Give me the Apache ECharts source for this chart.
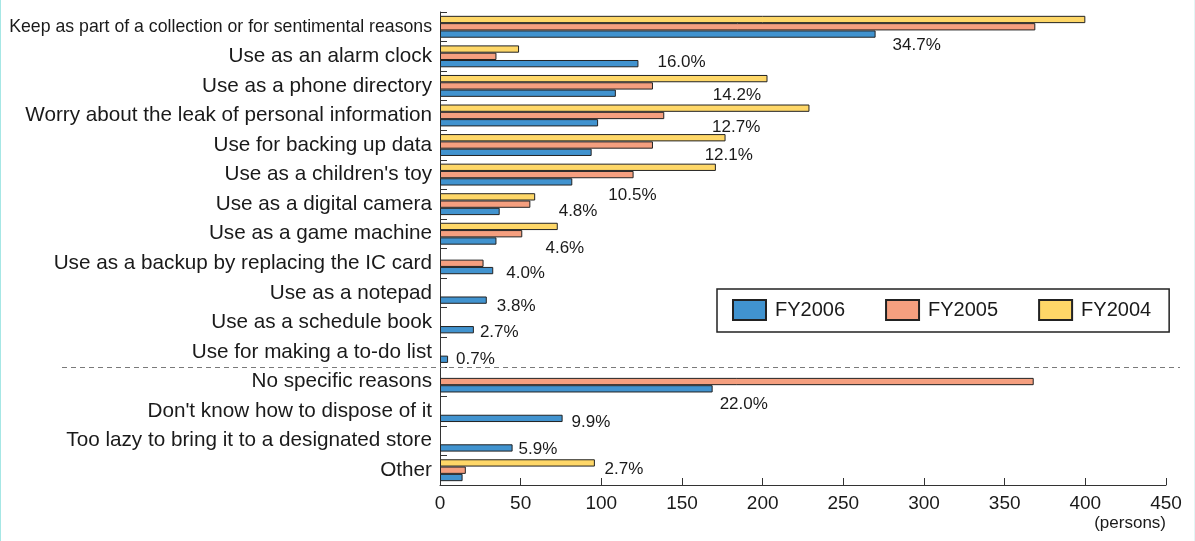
<!DOCTYPE html>
<html>
<head>
<meta charset="utf-8">
<script src="https://cdn.jsdelivr.net/npm/echarts@6/dist/echarts.min.js"></script>
<style>
  html, body { margin: 0; padding: 0; background: #fff; }
  #wrap { position: relative; width: 1195px; height: 541px; }
  #chart { width: 1195px; height: 541px; }
  #wrap::before, #wrap::after { content: ""; position: absolute; top: 0; bottom: 0; width: 1px; z-index: 5; }
  #wrap::before { left: 0; background: #a6e7e5; }
  #wrap::after { right: 0; background: #e3f6f6; }
</style>
</head>
<body>
<div id="wrap"><div id="chart"></div></div>
<script>
// Reasons for keeping old mobile phones, number of respondents by fiscal year
const categories = [
  'Keep as part of a collection or for sentimental reasons',
  'Use as an alarm clock',
  'Use as a phone directory',
  'Worry about the leak of personal information',
  'Use for backing up data',
  "Use as a children's toy",
  'Use as a digital camera',
  'Use as a game machine',
  'Use as a backup by replacing the IC card',
  'Use as a notepad',
  'Use as a schedule book',
  'Use for making a to-do list',
  'No specific reasons',
  "Don't know how to dispose of it",
  'Too lazy to bring it to a designated store',
  'Other'
];
const fy2006 = [270, 123, 109, 98, 94, 82, 37, 35, 33, 29, 21, 5, 169, 76, 45, 14];
const fy2005 = [369, 35, 132, 139, 132, 120, 56, 51, 27, null, null, null, 368, null, null, 16];
const fy2004 = [400, 49, 203, 229, 177, 171, 59, 73, null, null, null, null, null, null, null, 96];
// FY2006 share of respondents, shown beside each group
const share2006 = ['34.7%', '16.0%', '14.2%', '12.7%', '12.1%', '10.5%', '4.8%', '4.6%',
                   '4.0%', '3.8%', '2.7%', '0.7%', '22.0%', '9.9%', '5.9%', '2.7%'];
const xTicks = [0, 50, 100, 150, 200, 250, 300, 350, 400, 450];

// where each share label sits relative to the end of its FY2006 bar
const labelNudge = [[12, 11], [14, -1], [92, 2], [109, 5], [108, 3], [31, 13], [54, 0], [44, 7],
                    [8, 3], [5, 6], [1, 3], [3, 0], [2, 15], [4, 4], [1, 1], [137, -8]];

const FONT = '"Liberation Sans", Arial, Helvetica, sans-serif';
const BORDER = '#222';

const chart = echarts.init(document.getElementById('chart'), null, { renderer: 'canvas' });

function barSeries(name, data, color, withLabels) {
  return {
    name: name,
    type: 'bar',
    barWidth: 7.3,
    barGap: '0%',
    data: data.map((v, i) => {
      const item = { value: v };
      if (withLabels) {
        item.label = {
          show: true,
          position: 'right',
          offset: labelNudge[i],
          formatter: share2006[i]
        };
      }
      return item;
    }),
    itemStyle: { color: color, borderColor: BORDER, borderWidth: 1 },
    label: { fontFamily: FONT, fontSize: 17, color: '#1a1a1a' },
    emphasis: { disabled: true },
    animation: false
  };
}

chart.setOption({
  backgroundColor: '#ffffff',
  animation: false,
  grid: { left: 440, right: 29, top: 12, bottom: 56, containLabel: false },
  legend: {
    data: ['FY2006', 'FY2005', 'FY2004'],
    icon: 'rect',
    left: 717,
    top: 289,
    orient: 'horizontal',
    itemWidth: 33,
    itemHeight: 20,
    itemGap: 40,
    padding: [10, 18, 11, 15],
    borderColor: '#222',
    borderWidth: 1.5,
    selectedMode: false,
    textStyle: { fontFamily: FONT, fontSize: 20, color: '#1a1a1a', padding: [0, 0, 0, 4] }
  },
  xAxis: {
    type: 'value',
    min: xTicks[0],
    max: xTicks[xTicks.length - 1],
    interval: xTicks[1] - xTicks[0],
    name: '(persons)',
    nameLocation: 'end',
    nameGap: 0,
    nameTextStyle: {
      fontFamily: FONT, fontSize: 17, color: '#1a1a1a',
      align: 'right', verticalAlign: 'top', padding: [30, 0, 0, 0]
    },
    axisLine: { show: true, lineStyle: { color: '#333', width: 1 } },
    axisTick: { show: true, inside: true, length: 7, lineStyle: { color: '#333' } },
    axisLabel: { fontFamily: FONT, fontSize: 19, color: '#1a1a1a', margin: 9 },
    splitLine: { show: false }
  },
  yAxis: {
    type: 'category',
    inverse: true,
    data: categories,
    axisLine: { show: true, lineStyle: { color: '#333', width: 1 } },
    axisTick: { show: true, inside: true, length: 7, lineStyle: { color: '#333' } },
    axisLabel: {
      fontFamily: FONT, fontSize: 20.7, color: '#1a1a1a', margin: 8,
      formatter: (v, i) => i === 0 ? '{small|' + v + '}' : v,
      rich: { small: { fontFamily: FONT, fontSize: 17.7, color: '#1a1a1a' } }
    },
    splitLine: { show: false }
  },
  series: [
    barSeries('FY2004', fy2004, '#fed768', false),
    barSeries('FY2005', fy2005, '#f59f7f', false),
    barSeries('FY2006', fy2006, '#4193cf', true)
  ]
});

// dashed separator between the "use" reasons and the other reasons
function drawSeparator() {
  const yA = chart.convertToPixel({ yAxisIndex: 0 }, categories[11]);
  const yB = chart.convertToPixel({ yAxisIndex: 0 }, categories[12]);
  const y = Math.round((yA + yB) / 2) + 0.5;
  chart.setOption({
    graphic: [{
      type: 'line',
      shape: { x1: 62, y1: y, x2: 1180, y2: y },
      style: { stroke: '#7a7a7a', lineWidth: 1, lineDash: [5, 4] },
      z: 10,
      silent: true
    }]
  });
}
drawSeparator();
</script>
</body>
</html>
